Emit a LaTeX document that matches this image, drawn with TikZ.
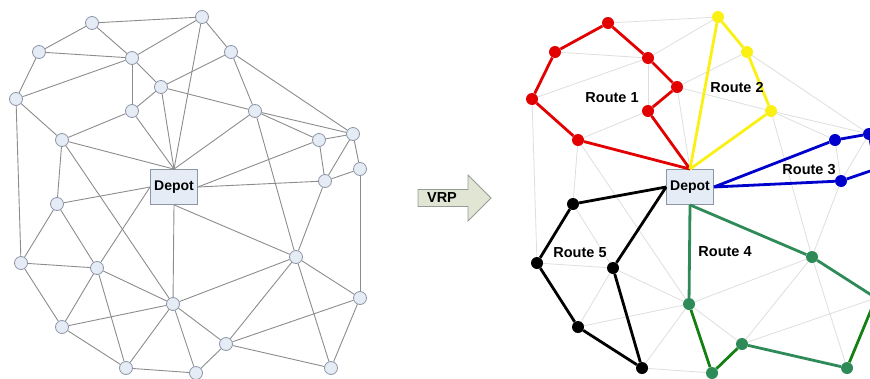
\documentclass[tikz,border=0pt]{standalone}
\usepackage{fontspec}
\setmainfont{Liberation Sans}
\usepackage{tikz}
\definecolor{nodefill}{RGB}{230,236,246}
\definecolor{nodeline}{RGB}{140,150,165}
\definecolor{edgegray}{RGB}{140,140,140}
\definecolor{faintgray}{RGB}{222,222,222}
\definecolor{arrowfill}{RGB}{224,229,212}
\definecolor{arrowline}{RGB}{150,155,150}
\definecolor{routeA}{RGB}{226,0,0}
\definecolor{routeB}{RGB}{250,240,20}
\definecolor{routeC}{RGB}{0,0,205}
\definecolor{routeD}{RGB}{46,139,87}
\definecolor{routeDd}{RGB}{20,128,20}
\definecolor{routeE}{RGB}{0,0,0}
\tikzset{
  vertex/.style={circle,draw=nodeline,fill=nodefill,inner sep=0pt,minimum size=13pt,line width=0.8pt},
  depot/.style={draw=nodeline,fill=nodefill,minimum width=47pt,minimum height=35pt,inner sep=0pt,line width=0.8pt,font=\bfseries\fontsize{14}{14}\selectfont},
  link/.style={edgegray,line width=0.9pt},
  faint/.style={faintgray,line width=0.8pt},
  stopdot/.style={circle,fill=#1,inner sep=0pt,minimum size=12pt},
  route/.style={#1,line width=2.8pt,line join=round},
  routename/.style={font=\bfseries\fontsize{14.5}{14.5}\selectfont,inner sep=0pt},
  arrowshape/.style={draw=arrowline,fill=arrowfill,line width=0.8pt}
}

\begin{document}
\begin{tikzpicture}[x=1pt,y=-1pt]
  \useasboundingbox (0,0) rectangle (870,378);

  \node[depot] (dp) at (174,187) {Depot};
  \node[depot] (rdp) at (690,187) {Depot};
  \foreach \n/\x/\y/\c in {a/92/23/routeA,b/39/52/routeA,c/132/58/routeA,d/161/87/routeA,
      e/16/99/routeA,f/132/111/routeA,g/62/140/routeA,h/202/17/routeB,i/231/52/routeB,
      j/255/111/routeB,k/319/140/routeC,l/353/134/routeC,m/360/169/routeC,n/325/181/routeC,
      o/57/204/routeE,p/21/263/routeE,q/97/268/routeE,r/173/304/routeD,s/62/327/routeE,
      t/126/368/routeE,u/196/373/routeD,v/296/257/routeD,w/360/298/routeD,x/226/344/routeD,
      y/331/368/routeD}{
    \node[vertex] (\n) at (\x,\y) {};
    \node[stopdot=\c] (r\n) at (\x+516,\y) {};
  }

  \foreach \a/\b in {a/h,a/b,a/c,b/c,b/e,e/c,c/h,c/f,c/d,d/dp.north,d/i,d/j,f/d,f/dp.north,
      g/f,g/dp.north,g/e,g/o,g/r,e/p,h/i,h/dp.north,i/j,i/l,j/k,j/l,j/dp.north,j/v,k/l,k/n,
      k/dp.east,l/n,l/m,m/n,n/dp.east,n/v,o/p,o/q,o/dp.west,p/q,p/s,q/s,q/t,q/r,q/dp.west,
      s/t,s/r,t/r,t/u,r/u,r/dp.south,r/v,r/x,dp.south/v,v/w,v/x,v/y,w/x,w/y,w/m,x/y,x/u}{
    \draw[link] (\a) -- (\b);
    \draw[faint] (r\a) -- (r\b);
  }

  \draw[arrowshape] (418,189.5) -- (468,189.5) -- (468,175) -- (491,198) -- (468,221)
    -- (468,206.5) -- (418,206.5) -- cycle;
  \node[routename] (vrp) at (442,198) {VRP};

  \draw[route=routeA] (rdp.north) -- (rf) -- (rd) -- (rc) -- (ra) -- (rb) -- (re) -- (rg) -- (rdp.north);
  \draw[route=routeB] (rdp.north) -- (rh) -- (ri) -- (rj) -- (rdp.north);
  \draw[route=routeC] (rdp.east) -- (rk) -- (rl) -- (rm) -- (rn) -- (rdp.east);
  \draw[route=routeD] (rdp.south) -- (rv) -- (rw);
  \draw[route=routeDd] (rw) -- (ry);
  \draw[route=routeD] (ry) -- (rx);
  \draw[route=routeDd] (rx) -- (ru) -- (rr);
  \draw[route=routeD] (rr) -- (rdp.south);
  \draw[route=routeE] (rdp.west) -- (ro) -- (rp) -- (rs) -- (rt) -- (rq) -- (rdp.west);

  \node[routename] (t1) at (612,98) {Route 1};
  \node[routename] (t2) at (737,88) {Route 2};
  \node[routename] (t3) at (809,170) {Route 3};
  \node[routename] (t4) at (725,252) {Route 4};
  \node[routename] (t5) at (580,253) {Route 5};
\end{tikzpicture}
\end{document}
